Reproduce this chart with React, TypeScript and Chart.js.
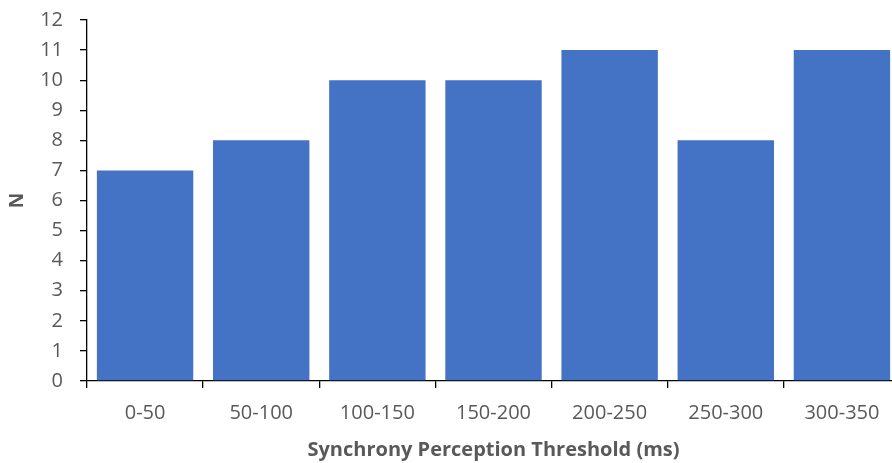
import React, { useEffect, useRef } from "react";
import { Chart, registerables } from "chart.js";

Chart.register(...registerables);

const categories = ["0-50", "50-100", "100-150", "150-200", "200-250", "250-300", "300-350"];
const counts = [7, 8, 10, 10, 11, 8, 11];
const yTitle = "N";
const xTitle = "Synchrony Perception Threshold (ms)";

const TEXT = "#595959";
const FONT = "'Open Sans', sans-serif";

export default function App() {
  const ref = useRef<HTMLCanvasElement | null>(null);

  useEffect(() => {
    document.body.style.margin = "0";
    document.body.style.overflow = "hidden";
    const canvas = ref.current;
    if (!canvas) return;
    const chart = new Chart(canvas, {
      type: "bar",
      data: {
        labels: categories,
        datasets: [
          {
            data: counts,
            backgroundColor: "#4472C4",
            borderWidth: 0,
            barPercentage: 0.83,
            categoryPercentage: 1,
          },
        ],
      },
      options: {
        responsive: false,
        animation: false,
        devicePixelRatio: 1,
        layout: { padding: { top: 20, left: 0, right: 0, bottom: 0 } },
        plugins: { legend: { display: false }, tooltip: { enabled: false } },
        scales: {
          x: {
            offset: true,
            grid: {
              offset: true,
              drawOnChartArea: false,
              drawTicks: true,
              tickLength: 7,
              color: "#000",
              lineWidth: 1.3,
            },
            border: { display: true, color: "#000", width: 1.3 },
            ticks: {
              color: TEXT,
              font: { family: FONT, size: 20 },
              padding: 13,
              maxRotation: 0,
              autoSkip: false,
            },
            title: {
              display: true,
              text: xTitle,
              color: TEXT,
              font: { family: FONT, size: 20, weight: "bold" },
              padding: { top: 0, bottom: 1 },
            },
            afterFit: (scale: any) => {
              scale.height = 82;
              scale.paddingLeft = 0;
              scale.paddingRight = 0;
            },
          },
          y: {
            min: 0,
            max: 12,
            grid: {
              drawOnChartArea: false,
              drawTicks: true,
              tickLength: 7,
              color: "#000",
              lineWidth: 1.3,
            },
            border: { display: true, color: "#000", width: 1.3 },
            ticks: {
              stepSize: 1,
              color: TEXT,
              font: { family: FONT, size: 20 },
              padding: 17,
            },
            title: {
              display: true,
              text: yTitle,
              color: TEXT,
              font: { family: FONT, size: 19, weight: "bold" },
              padding: { top: 6, bottom: 0 },
            },
            afterFit: (scale: any) => {
              scale.width = 87;
              scale.paddingTop = 0;
              scale.paddingBottom = 0;
            },
          },
        },
      },
    });
    return () => chart.destroy();
  }, []);

  return (
    <div
      style={{
        position: "fixed",
        left: 0,
        top: 0,
        width: 892,
        height: 463,
        overflow: "hidden",
        background: "#fff",
      }}
    >
      <canvas ref={ref} width={900} height={463} style={{ display: "block" }} />
    </div>
  );
}
